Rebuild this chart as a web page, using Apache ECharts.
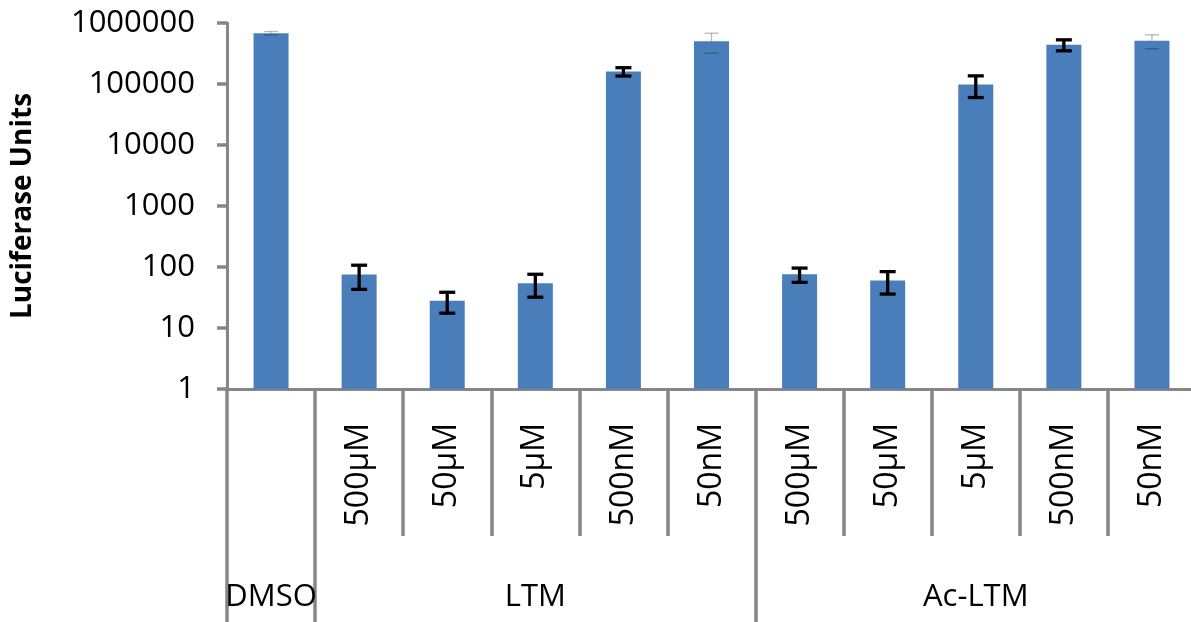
<!DOCTYPE html>
<html>
<head>
<meta charset="utf-8">
<script src="https://cdn.jsdelivr.net/npm/echarts@6/dist/echarts.min.js"></script>
<style>
    html, body { margin: 0; padding: 0; background: #fff; }
    #chart { width: 1191px; height: 622px; }
</style>
</head>
<body>
<div id="chart"></div>
<script>
// 数据 —— 从图上读出来的
var concLabels = ['', '500µM', '50µM', '5µM', '500nM', '50nM', '500µM', '50µM', '5µM', '500nM', '50nM'];
var groupNames = ['DMSO', 'LTM', 'Ac-LTM'];
var groupSizes = [1, 5, 5];
var luciferase = [680000, 75, 28, 54, 160000, 500000, 76, 60, 98000, 440000, 510000];
var errors = [45000, 32, 10.5, 22, 25000, 180000, 20, 24, 38000, 90000, 130000];
var yTicks = [1, 10, 100, 1000, 10000, 100000, 1000000];

// 细误差线（原图里这几根是浅色细线）
var thinErr = [0, 5, 10];

var FONT = 'Open Sans';
var AXIS_GRAY = '#868686';

// 分组标签放在每组中间那一格, 长分隔线放在每组起点
var groupLabels = [];
var groupStarts = [];
var start = 0;
groupSizes.forEach(function (size, g) {
    groupStarts.push(start);
    for (var k = 0; k < size; k++) {
        groupLabels.push(k === Math.floor(size / 2) ? groupNames[g] : '');
    }
    start += size;
});

var errData = luciferase.map(function (v, i) {
    return [i, v, errors[i]];
});

function renderError(params, api) {
    var i = api.value(0), v = api.value(1), e = api.value(2);
    var top = api.coord([i, v + e]);
    var mid = api.coord([i, v]);
    var bot = api.coord([i, v - e]);
    var thin = thinErr.indexOf(i) >= 0;
    var half = thin ? 7 : 8;
    var style = thin
        ? { stroke: 'rgba(0,0,0,0.28)', lineWidth: 1.3 }
        : { stroke: '#000', lineWidth: 3.3 };
    return {
        type: 'group',
        children: [
            { type: 'line', shape: { x1: top[0] - half, y1: top[1], x2: top[0] + half, y2: top[1] }, style: style },
            { type: 'line', shape: { x1: top[0], y1: top[1], x2: top[0], y2: thin ? mid[1] : bot[1] }, style: style },
            { type: 'line', shape: { x1: bot[0] - half, y1: bot[1], x2: bot[0] + half, y2: bot[1] }, style: style }
        ]
    };
}

var myChart = echarts.init(document.getElementById('chart'));

var option = {
    animation: false,
    textStyle: { fontFamily: FONT },
    grid: {
        left: 227,
        top: 23,
        width: 969,
        height: 366,
        containLabel: false,
        outerBoundsMode: 'none'
    },
    xAxis: [
        {   // 浓度
            type: 'category',
            position: 'bottom',
            data: concLabels,
            boundaryGap: true,
            axisLine: { show: true, lineStyle: { color: AXIS_GRAY, width: 3 } },
            axisTick: { show: true, interval: 0, length: 147, lineStyle: { color: AXIS_GRAY, width: 3.5 } },
            axisLabel: {
                interval: 0,
                rotate: 90,
                margin: 34,
                color: '#000',
                fontSize: 32,
                fontFamily: FONT
            },
            splitLine: { show: false }
        },
        {   // 分组
            type: 'category',
            position: 'bottom',
            data: groupLabels,
            boundaryGap: true,
            axisLine: { show: false },
            axisTick: {
                show: true,
                length: 240,
                interval: function (index) {
                    return groupStarts.indexOf(index) >= 0;
                },
                lineStyle: { color: AXIS_GRAY, width: 3.5 }
            },
            axisLabel: {
                interval: 0,
                margin: 193,
                color: '#000',
                fontSize: 31,
                fontFamily: FONT
            },
            splitLine: { show: false }
        }
    ],
    yAxis: {
        type: 'log',
        logBase: 10,
        min: yTicks[0],
        max: yTicks[yTicks.length - 1],
        interval: 1,
        name: 'Luciferase Units',
        nameLocation: 'middle',
        nameRotate: 90,
        nameGap: 190,
        nameTextStyle: { color: '#000', fontSize: 28, fontWeight: 'bold', fontFamily: FONT },
        axisLine: { show: true, lineStyle: { color: AXIS_GRAY, width: 3 } },
        axisTick: { show: true, length: 10, lineStyle: { color: AXIS_GRAY, width: 3.5 } },
        axisLabel: {
            color: '#000',
            fontSize: 31,
            fontFamily: FONT,
            margin: 32,
            formatter: function (v) { return String(Math.round(v)); }
        },
        splitLine: { show: false }
    },
    series: [
        {
            name: 'Luciferase',
            type: 'bar',
            xAxisIndex: 0,
            data: luciferase,
            barWidth: 35,
            itemStyle: { color: '#4a7ebb' }
        },
        {
            name: 'error',
            type: 'custom',
            xAxisIndex: 0,
            renderItem: renderError,
            data: errData,
            z: 10
        }
    ]
};

myChart.setOption(option);
</script>
</body>
</html>
